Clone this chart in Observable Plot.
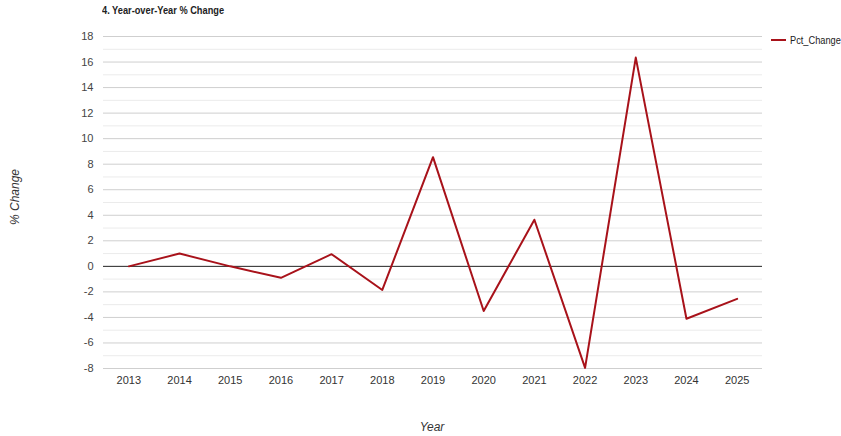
<!DOCTYPE html>
<html>
<head>
<meta charset="utf-8">
<script src="https://cdn.jsdelivr.net/npm/d3@7"></script>
<script src="https://cdn.jsdelivr.net/npm/@observablehq/plot@0.6"></script>
<style>
  html, body { margin: 0; padding: 0; background: #fff; }
  #wrap { position: relative; width: 841px; height: 436px; overflow: hidden; font-family: "Liberation Sans", Arial, sans-serif; }
  #title { position: absolute; left: 102px; top: 4px; font-size: 11px; font-weight: bold; color: #222; white-space: nowrap; transform: scaleX(0.84); transform-origin: 0 50%; }
  #legend { position: absolute; left: 771px; top: 34px; font-size: 11px; color: #222; white-space: nowrap; display: flex; align-items: center; }
  #legend .sw { display: inline-block; width: 15px; height: 2px; background: #a8121a; margin-right: 4px; }
  #legend .lbl { display: inline-block; transform: scaleX(0.84); transform-origin: 0 50%; }
  #ytitle { position: absolute; left: 15px; top: 197px; font-size: 12px; font-style: italic; color: #333; white-space: nowrap; transform: translate(-50%, -50%) rotate(-90deg); }
  #xtitle { position: absolute; left: 432px; top: 427px; font-size: 12px; font-style: italic; color: #333; white-space: nowrap; transform: translate(-50%, -50%); }
</style>
</head>
<body>
<div id="wrap">
  <div id="title">4. Year-over-Year % Change</div>
  <div id="legend"><span class="sw"></span><span class="lbl">Pct_Change</span></div>
  <div id="ytitle">% Change</div>
  <div id="xtitle">Year</div>
</div>
<script>
// Year-over-year percentage change, one value per year
const years = [2013, 2014, 2015, 2016, 2017, 2018, 2019, 2020, 2021, 2022, 2023, 2024, 2025];
const pctChange = [0.0, 1.0, 0.0, -0.9, 0.95, -1.85, 8.55, -3.5, 3.65, -7.95, 16.35, -4.1, -2.55];

// Value axis: labelled major ticks and lighter minor gridlines in between
const yMajorTicks = [-8, -6, -4, -2, 0, 2, 4, 6, 8, 10, 12, 14, 16, 18];
const yMinorTicks = [-7, -5, -3, -1, 1, 3, 5, 7, 9, 11, 13, 15, 17];

const rows = years.map((y, i) => ({year: String(y), value: pctChange[i]}));
const lineColor = "#a8121a";
const font = "Liberation Sans, Arial, sans-serif";

const chart = Plot.plot({
  width: 841,
  height: 436,
  marginLeft: 103,
  marginRight: 79,
  marginTop: 36,
  marginBottom: 68,
  style: {fontFamily: font, fontSize: "11px", color: "#444", background: "transparent"},
  x: {type: "point", domain: years.map(String), padding: 0.5, round: false, label: null},
  y: {domain: [-8, 18], label: null},
  marks: [
    Plot.ruleY(yMinorTicks, {stroke: "#ebebeb", strokeWidth: 1}),
    Plot.ruleY(yMajorTicks.filter(d => d !== 0), {stroke: "#cfcfcf", strokeWidth: 1}),
    Plot.ruleY([0], {stroke: "#222", strokeWidth: 1}),
    Plot.axisY(yMajorTicks, {tickSize: 0, tickPadding: 10, fill: "#444", fontSize: 11, tickFormat: d => String(d)}),
    Plot.axisX({tickSize: 0, tickPadding: 8, fill: "#333", fontSize: 11, tickFormat: d => d}),
    Plot.line(rows, {x: "year", y: "value", stroke: lineColor, strokeWidth: 2})
  ]
});
chart.style.position = "absolute";
chart.style.left = "0";
chart.style.top = "0";
chart.style.overflow = "visible";
document.getElementById("wrap").prepend(chart);
</script>
</body>
</html>
